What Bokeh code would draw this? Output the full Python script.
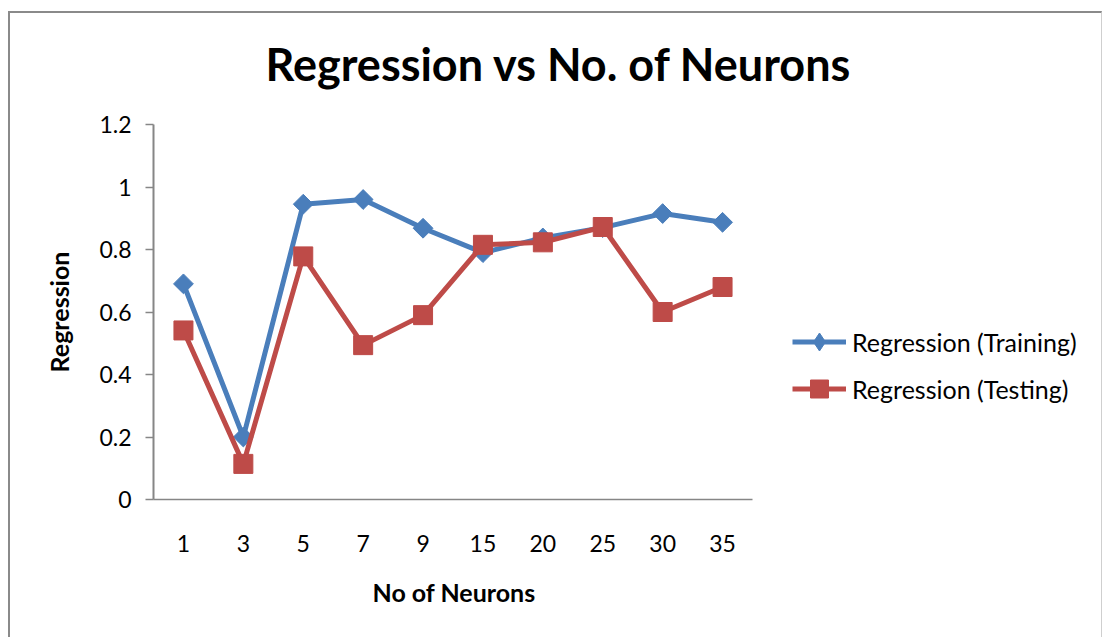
import math
from bokeh.plotting import figure
from bokeh.models import (Range1d, FixedTicker, NumeralTickFormatter,
                          Legend, LegendItem, ColumnDataSource, Title, InlineStyleSheet)
from bokeh.embed import file_html
from bokeh.resources import INLINE

# Neuron counts on the x axis and the regression scores for each run
neurons = ["1", "3", "5", "7", "9", "15", "20", "25", "30", "35"]
training = [0.69, 0.20, 0.945, 0.96, 0.868, 0.79, 0.837, 0.87, 0.915, 0.887]
testing = [0.541, 0.114, 0.778, 0.494, 0.59, 0.815, 0.823, 0.872, 0.60, 0.68]
y_ticks = [0, 0.2, 0.4, 0.6, 0.8, 1.0, 1.2]

title_text = "Regression vs No. of Neurons"
x_title = "No of Neurons"
y_title = "Regression"
train_name = "Regression (Training)"
test_name = "Regression (Testing)"

BLUE = "#4A7EBB"
RED = "#BE4B48"
AXIS = "#868686"
FONT = "Lato"

W, H = 1104, 637
FL, FT, FB = 153, 123, 499       # plot-area edges in canvas pixels
AXIS_END = 752                   # where the category axis stops
FRAME_R = 1100                   # drawing frame extends under the legend

# evenly spaced category slots; the frame is wider than the axis so the legend fits
slot = list(range(len(neurons)))
slot_px = (AXIS_END - FL) / len(neurons)
x_start = -0.5
x_end = x_start + (FRAME_R - FL) / slot_px

# thin frame around the whole chart area
frame_css = InlineStyleSheet(css="""
:host { position: relative; }
:host::after {
  content: ""; position: absolute; left: 8px; top: 11px; width: 1094px; height: 626px;
  box-sizing: border-box; border-left: 2px solid #8a8a8a; border-top: 2px solid #8a8a8a;
  border-right: 1px solid #cfcfcf; pointer-events: none; z-index: 50;
}
""")

p = figure(width=W, height=H, x_range=Range1d(x_start, x_end), y_range=Range1d(0, 1.2),
           output_backend="svg", toolbar_location=None,
           min_border_left=FL, min_border_right=W - FRAME_R,
           min_border_top=FT, min_border_bottom=H - FB,
           title=Title(text=title_text, align="left", offset=112, standoff=68,
                       text_font=FONT, text_font_style="bold", text_font_size="45px",
                       text_color="black"),
           stylesheets=[frame_css])
p.outline_line_color = None
p.xgrid.visible = False
p.ygrid.visible = False
p.background_fill_color = "white"
p.border_fill_color = "white"

src = ColumnDataSource(dict(x=slot, train=training, test=testing))

r_train_line = p.line("x", "train", source=src, line_color=BLUE, line_width=5, line_join="round")
p.scatter("x", "train", source=src, marker="square", size=14, angle=math.pi / 4,
          fill_color=BLUE, line_color=BLUE)
r_test_line = p.line("x", "test", source=src, line_color=RED, line_width=5, line_join="round")
r_test_pts = p.scatter("x", "test", source=src, marker="square", size=19,
                       fill_color=RED, line_color=RED)

# legend-only diamond key (its single point has no y value, so nothing is plotted)
key_src = ColumnDataSource(dict(x=[slot[0]], y=[float("nan")]))
r_train_key = p.scatter("x", "y", source=key_src, marker="diamond", size=14,
                        fill_color=BLUE, line_color=BLUE)

# axes
yax = p.yaxis[0]
yax.ticker = FixedTicker(ticks=y_ticks)
yax.formatter = NumeralTickFormatter(format="0.[0]")
yax.major_tick_out = 8
yax.major_tick_in = 0
yax.minor_tick_line_color = None
yax.axis_line_color = AXIS
yax.axis_line_width = 2
yax.major_tick_line_color = AXIS
yax.major_tick_line_width = 1.5
yax.major_label_text_font = FONT
yax.major_label_text_font_size = "23px"
yax.major_label_text_color = "black"
yax.major_label_standoff = 14
yax.axis_label = y_title
yax.axis_label_text_font = FONT
yax.axis_label_text_font_style = "bold"
yax.axis_label_text_font_size = "25px"
yax.axis_label_text_color = "black"
yax.axis_label_standoff = 22

xax = p.xaxis[0]
xax.ticker = FixedTicker(ticks=slot)
xax.major_label_overrides = {i: name for i, name in zip(slot, neurons)}
xax.bounds = (x_start, x_start + len(neurons))
xax.major_tick_out = 0
xax.major_tick_in = 0
xax.major_tick_line_color = None
xax.minor_tick_line_color = None
xax.axis_line_color = AXIS
xax.axis_line_width = 1.5
xax.major_label_text_font = FONT
xax.major_label_text_font_size = "23px"
xax.major_label_text_color = "black"
xax.major_label_standoff = 35

# x-axis title, centred under the category axis rather than the wider frame
p.add_layout(Title(text=x_title, align="left", offset=219, standoff=40,
                   text_font=FONT, text_font_style="bold", text_font_size="25px",
                   text_color="black"), "below")

legend = Legend(items=[LegendItem(label=train_name, renderers=[r_train_line, r_train_key]),
                       LegendItem(label=test_name, renderers=[r_test_line, r_test_pts])],
                location=(792 - FL, 88), orientation="vertical",
                glyph_width=54, glyph_height=45, spacing=2, padding=0, margin=0,
                label_standoff=6, label_text_font=FONT, label_text_font_size="25px",
                label_text_color="black", label_height=45,
                border_line_color=None, background_fill_color=None)
p.add_layout(legend)

open("out.html", "w").write(file_html(p, INLINE))
